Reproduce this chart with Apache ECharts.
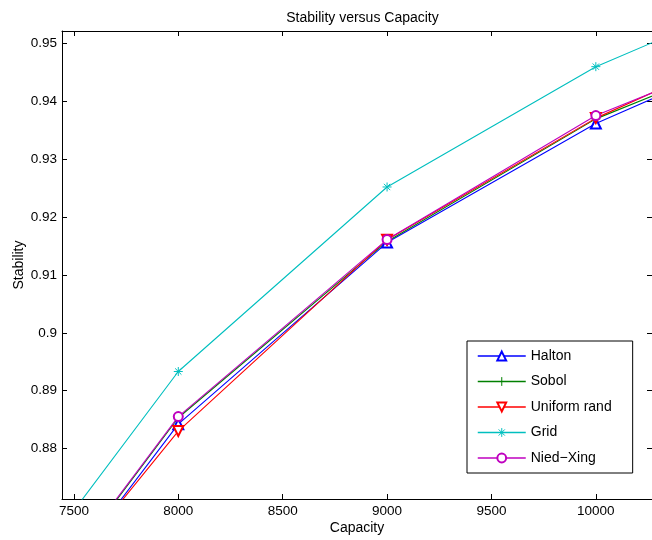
<!DOCTYPE html>
<html>
<head>
<meta charset="utf-8">
<script src="https://cdn.jsdelivr.net/npm/echarts@6/dist/echarts.min.js"></script>
<style>
html,body{margin:0;padding:0;background:#fff;}
#chart{width:652px;height:540px;}
</style>
</head>
<body>
<div id="chart"></div>
<script>
var capacity = [7000, 8000, 9000, 10000, 11000];
var halton  = [0.8366, 0.8842, 0.9156, 0.9362, 0.9521];
var sobol   = [0.8372, 0.8853, 0.9158, 0.9370, 0.9516];
var uniform = [0.8385, 0.8830, 0.9161, 0.93713, 0.9534];
var grid    = [0.8452, 0.8933, 0.92522, 0.94603, 0.9614];
var nied    = [0.8374, 0.8855, 0.91612, 0.93757, 0.9522];
var xTicks = [7500, 8000, 8500, 9000, 9500, 10000];
var yTicks = [0.88, 0.89, 0.9, 0.91, 0.92, 0.93, 0.94, 0.95];
var names  = ['Halton', 'Sobol', 'Uniform rand', 'Grid', 'Nied\u2212Xing'];
var colors = ['#0000ff', '#008000', '#ff0000', '#00bfbf', '#bf00bf'];

var FONT = 'Liberation Sans, Arial, Helvetica, sans-serif';
var plusPath = 'path://M0,5L10,5M5,0L5,10';
var starPath = 'path://M0,5L10,5M5,0L5,10M1.5,1.5L8.5,8.5M1.5,8.5L8.5,1.5';

function pairs(ys){ return capacity.map(function(x,i){ return [x, ys[i]]; }); }
function mk(i, ys, symbol, size, rotate){
  var color = colors[i];
  return {
    name: names[i], type: 'line', data: pairs(ys),
    symbol: symbol, symbolSize: size, symbolRotate: rotate || 0,
    showAllSymbol: true,
    lineStyle: {color: color, width: 1.1},
    itemStyle: {color: color, borderColor: color, borderWidth: 1},
    emphasis: {disabled: true},
    animation: false, clip: true
  };
}

var chart = echarts.init(document.getElementById('chart'), null, {renderer: 'canvas'});
var xr = {min: 7443, max: 10269};
var yr = {min: 0.87125, max: 0.9522};
var axisLineStyle = {color: '#000', width: 1};
chart.setOption({
  animation: false,
  backgroundColor: '#fff',
  title: {
    text: 'Stability versus Capacity', left: 357.5, top: 6, textAlign: 'center',
    textStyle: {fontFamily: FONT, fontSize: 14, fontWeight: 'normal', color: '#000'}
  },
  grid: {left: 62, top: 31, right: -1, bottom: 40, containLabel: false},
  legend: {
    left: 467, top: 341, orient: 'vertical',
    itemWidth: 48, itemHeight: 11, itemGap: 11.5,
    padding: [8, 21, 8, 10],
    borderColor: '#000', borderWidth: 1, backgroundColor: '#fff',
    textStyle: {fontFamily: FONT, fontSize: 14, color: '#000'},
    data: names.map(function(n, i){
      return {name: n,
        lineStyle: {color: colors[i], width: 1.5},
        itemStyle: {color: colors[i], borderColor: colors[i], borderWidth: 1}};
    })
  },
  xAxis: [{
    type: 'value', min: xr.min, max: xr.max, position: 'bottom',
    name: 'Capacity', nameLocation: 'middle', nameGap: 22, nameMoveOverlap: false,
    nameTextStyle: {fontFamily: FONT, fontSize: 14, color: '#000'},
    axisLine: {show: true, lineStyle: axisLineStyle},
    axisTick: {show: true, inside: true, length: 5, lineStyle: axisLineStyle, customValues: xTicks},
    axisLabel: {show: true, margin: 5, fontFamily: FONT, fontSize: 13.5, color: '#000', customValues: xTicks,
      formatter: function(v){ return String(Math.round(v)); }},
    splitLine: {show: false}
  }, {
    type: 'value', min: xr.min, max: xr.max, position: 'top',
    axisLine: {show: true, lineStyle: axisLineStyle},
    axisTick: {show: true, inside: true, length: 5, lineStyle: axisLineStyle, customValues: xTicks},
    axisLabel: {show: false},
    splitLine: {show: false}
  }],
  yAxis: [{
    type: 'value', min: yr.min, max: yr.max, position: 'left',
    name: 'Stability', nameLocation: 'middle', nameGap: 36, nameMoveOverlap: false,
    nameTextStyle: {fontFamily: FONT, fontSize: 14, color: '#000'},
    axisLine: {show: true, lineStyle: axisLineStyle},
    axisTick: {show: true, inside: true, length: 5, lineStyle: axisLineStyle, customValues: yTicks},
    axisLabel: {show: true, margin: 5, fontFamily: FONT, fontSize: 13.5, color: '#000', customValues: yTicks,
      formatter: function(v){ return String(parseFloat(v.toFixed(4))); }},
    splitLine: {show: false}
  }, {
    type: 'value', min: yr.min, max: yr.max, position: 'right',
    axisLine: {show: true, lineStyle: axisLineStyle},
    axisTick: {show: true, inside: true, length: 5, lineStyle: axisLineStyle, customValues: yTicks},
    axisLabel: {show: false},
    splitLine: {show: false}
  }],
  series: [
    mk(0, halton, 'emptyTriangle', 10),
    mk(1, sobol, plusPath, 9),
    mk(2, uniform, 'emptyTriangle', 10, 180),
    mk(3, grid, starPath, 9),
    mk(4, nied, 'emptyCircle', 9)
  ]
});
</script>
</body>
</html>
